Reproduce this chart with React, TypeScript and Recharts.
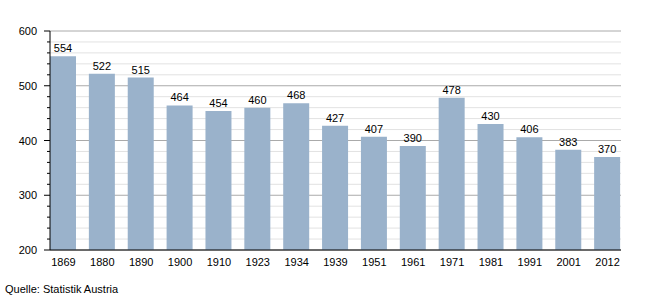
import React from 'react';
import { Bar, BarChart, CartesianGrid, LabelList, XAxis, YAxis } from 'recharts';

// Census years and population (thousands), source: Statistik Austria
const YEARS = ['1869', '1880', '1890', '1900', '1910', '1923', '1934', '1939', '1951', '1961', '1971', '1981', '1991', '2001', '2012'];
const VALUES = [554, 522, 515, 464, 454, 460, 468, 427, 407, 390, 478, 430, 406, 383, 370];

const MAJOR_TICKS = [200, 300, 400, 500, 600];
const MINOR_TICKS = [220, 240, 260, 280, 320, 340, 360, 380, 420, 440, 460, 480, 520, 540, 560, 580];
const ALL_TICKS = [...MAJOR_TICKS, ...MINOR_TICKS].sort((a, b) => a - b);

const FONT = '"Liberation Sans", Arial, sans-serif';
const BAR_COLOR = '#9ab2cb';

const chartData = YEARS.map((year, i) => ({ year, value: VALUES[i] }));

// y-axis tick: long mark + label on hundreds, short mark otherwise.
// recharts hands us x = axis - tickSize(6) - tickMargin(2), so the axis line sits at x + 8
const YTick = (props: any) => {
  const { x, y, payload } = props;
  const axisX = x + 8;
  const major = payload.value % 100 === 0;
  return (
    <g>
      <line x1={axisX - (major ? 6 : 3)} x2={axisX} y1={y} y2={y} stroke="#000" strokeWidth={1} />
      {major && (
        <text x={axisX - 13} y={y} dy={4} textAnchor="end" fontSize={11} fontFamily={FONT} fill="#000">
          {payload.value}
        </text>
      )}
    </g>
  );
};

export default function App() {
  return (
    <div style={{ position: 'absolute', left: 0, top: 0, width: 650, height: 300, background: '#fff' }}>
      <BarChart
        width={650}
        height={300}
        data={chartData}
        margin={{ top: 31, right: 29, bottom: 30, left: 0 }}
        barSize={26}
      >
        <CartesianGrid vertical={false} horizontalValues={MINOR_TICKS} stroke="#e2e2e2" />
        <CartesianGrid vertical={false} horizontalValues={MAJOR_TICKS} stroke="#aaaaaa" />
        <XAxis
          dataKey="year"
          height={20}
          padding={{ left: -6, right: -6 }}
          tickLine={false}
          axisLine={{ stroke: '#000' }}
          tick={{ fontSize: 11, fontFamily: FONT, fill: '#000' }}
          tickMargin={2}
          interval={0}
        />
        <YAxis
          width={50}
          domain={[200, 600]}
          ticks={ALL_TICKS}
          interval={0}
          allowDataOverflow
          tickLine={false}
          axisLine={{ stroke: '#000' }}
          tick={<YTick />}
        />
        <Bar dataKey="value" fill={BAR_COLOR} isAnimationActive={false}>
          <LabelList dataKey="value" position="top" offset={4} fontSize={11} fontFamily={FONT} fill="#000" />
        </Bar>
      </BarChart>
      <div style={{ position: 'absolute', left: 5, top: 283, fontSize: 11, fontFamily: FONT, color: '#000' }}>
        Quelle: Statistik Austria
      </div>
    </div>
  );
}
